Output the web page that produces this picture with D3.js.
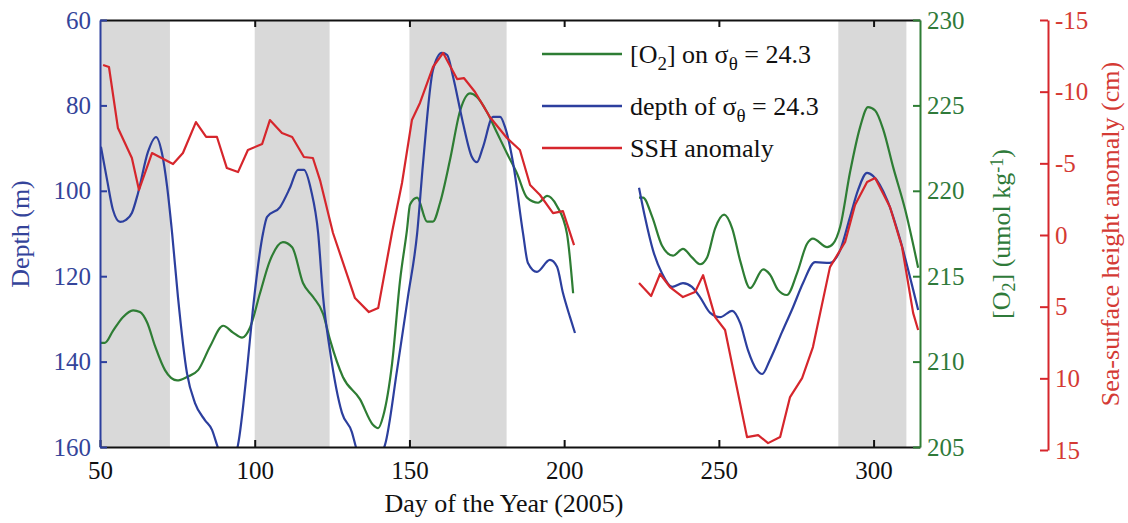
<!DOCTYPE html>
<html>
<head>
<meta charset="utf-8">
<script src="https://cdn.jsdelivr.net/npm/d3@7"></script>
<style>
  body { margin: 0; background: #fff; }
  svg text { font-family: "Liberation Serif", "Times New Roman", serif; }
</style>
</head>
<body>
<svg id="chart" width="1128" height="523"></svg>
<script>
// shaded periods (day ranges)
const bands = [[50, 72.6], [100, 124.2], [150, 181.4], [288.6, 310.6]];

// depth of sigma_theta = 24.3 (m); null marks the data gap
const depthDays = [50.3, 52.3, 54.2, 56.5, 58.4, 60.3, 62.3, 65.5, 68.1, 70.0, 71.7, 73.3, 75.2, 78.1, 80.7, 83.9, 86.2, 87.8, 91.0, 94.6, 97.5, 99.4, 102.7, 104.0, 108.2, 111.4, 114.0, 115.9, 118.2, 120.5, 122.1, 124.3, 128.2, 131.4, 132.7, 136.5, 142.1, 146.0, 149.5, 152.5, 154.4, 157.6, 160.5, 162.2, 164.1, 167.3, 170.2, 171.8, 173.8, 177.0, 179.3, 180.9, 183.5, 186.7, 188.3, 191.2, 195.4, 197.7, 199.6, 201.9, 203.5,
  null,
  224.2, 226.1, 228.7, 231.6, 234.9, 238.4, 241.3, 243.9, 247.2, 250.4, 254.3, 256.9, 259.4, 262.3, 264.0, 266.5, 270.4, 274.0, 277.2, 281.1, 285.9, 289.2, 292.4, 295.0, 297.9, 299.8, 304.4, 308.6, 312.8, 314.4];
const depthValues = [89.7, 97.5, 104.5, 107.3, 106.8, 105.2, 100.5, 90.9, 87.4, 91.1, 99.1, 109.9, 124.9, 142.7, 149.7, 153.7, 156.0, 159.5, 166.0, 159.5, 142.0, 127.9, 109.9, 106.1, 103.8, 99.3, 95.1, 95.1, 99.8, 109.9, 124.9, 137.3, 152.0, 156.5, 160.0, 166.0, 159.5, 142.0, 124.9, 109.9, 93.5, 71.7, 67.7, 68.2, 73.3, 84.1, 92.1, 93.3, 89.7, 82.7, 82.7, 85.1, 93.5, 109.9, 116.9, 119.0, 116.2, 117.8, 123.9, 129.6, 133.3,
  null,
  99.3, 106.1, 113.9, 119.3, 122.5, 121.6, 122.5, 124.9, 128.6, 129.6, 128.1, 131.0, 137.3, 142.0, 142.9, 139.6, 133.1, 127.2, 121.6, 116.7, 116.9, 113.9, 106.1, 99.8, 95.8, 96.5, 102.2, 111.5, 123.2, 127.9];

// [O2] on sigma_theta = 24.3 (umol/kg)
const o2Days = [50.0, 51.6, 54.2, 57.4, 60.7, 62.9, 65.2, 67.8, 71.0, 74.9, 78.1, 81.7, 85.6, 89.8, 93.0, 95.9, 98.5, 101.7, 104.9, 109.1, 112.1, 115.6, 118.8, 122.1, 124.3, 128.5, 134.0, 138.2, 139.9, 141.5, 144.4, 147.0, 149.2, 150.2, 152.5, 155.7, 157.6, 159.9, 163.1, 166.4, 169.6, 171.8, 175.1, 178.3, 181.5, 184.8, 188.0, 191.6, 194.5, 197.7, 200.9, 202.9,
  null,
  224.2, 225.5, 228.4, 231.6, 235.2, 238.4, 241.3, 243.9, 246.2, 248.8, 251.7, 254.3, 256.9, 260.1, 264.3, 266.5, 269.1, 272.0, 275.3, 278.5, 280.4, 285.0, 286.9, 289.2, 292.4, 295.6, 298.2, 300.5, 303.1, 306.3, 310.2, 314.4];
const o2Values = [211.1, 211.1, 211.8, 212.6, 213.0, 212.9, 212.3, 210.9, 209.5, 208.9, 209.1, 209.5, 210.9, 212.1, 211.7, 211.4, 212.0, 214.0, 215.9, 217.0, 216.7, 214.6, 213.8, 212.8, 211.3, 209.1, 207.8, 206.3, 206.1, 206.8, 209.9, 214.8, 217.7, 219.2, 219.6, 218.2, 218.2, 219.3, 221.8, 224.7, 225.7, 225.5, 224.6, 223.4, 222.2, 221.0, 219.6, 219.3, 219.7, 219.1, 217.5, 214.0,
  null,
  219.6, 219.6, 218.5, 216.8, 216.2, 216.6, 216.1, 215.7, 216.1, 217.8, 218.6, 217.8, 215.9, 214.3, 215.4, 215.1, 214.2, 213.9, 215.2, 216.9, 217.2, 216.7, 216.9, 217.9, 221.1, 223.7, 224.9, 224.7, 223.6, 221.4, 218.9, 215.5];

// sea-surface height anomaly (cm)
const sshDays = [51.0, 52.9, 55.8, 60.3, 62.6, 66.8, 73.6, 76.8, 81.0, 84.3, 87.8, 91.0, 94.6, 97.8, 102.4, 104.9, 108.8, 112.1, 115.9, 118.8, 121.1, 125.3, 132.4, 136.9, 139.9, 144.4, 147.6, 150.8, 153.4, 157.6, 160.9, 165.4, 167.6, 171.2, 176.0, 181.5, 185.7, 189.0, 192.2, 196.4, 199.6, 203.2,
  null,
  224.2, 228.1, 231.0, 234.2, 238.4, 242.3, 244.9, 248.8, 252.0, 259.1, 262.7, 265.9, 269.8, 273.0, 276.9, 280.4, 285.9, 290.8, 294.0, 297.9, 300.5, 305.3, 309.2, 312.8, 314.4];
const sshValues = [-11.86, -11.72, -7.46, -5.37, -3.14, -5.72, -4.95, -5.72, -7.88, -6.84, -6.84, -4.67, -4.39, -5.93, -6.35, -8.02, -7.11, -6.84, -5.44, -5.37, -3.83, -0.14, 4.40, 5.38, 5.10, -0.21, -3.63, -8.02, -9.21, -11.72, -12.70, -10.88, -10.95, -9.98, -8.23, -6.77, -5.93, -3.49, -2.79, -1.53, -1.67, 0.70,
  null,
  3.35, 4.26, 2.72, 3.63, 4.33, 3.98, 2.80, 5.73, 6.63, 14.10, 13.96, 14.52, 14.10, 11.31, 9.98, 7.82, 2.24, 0.49, -2.09, -3.70, -3.97, -1.95, 0.84, 5.45, 6.63];

const xTicks = [50, 100, 150, 200, 250, 300];
const depthTicks = [60, 80, 100, 120, 140, 160];
const o2Ticks = [205, 210, 215, 220, 225, 230];
const sshTicks = [-15, -10, -5, 0, 5, 10, 15];

const blue = "#2c3f9e", green = "#2e7d34", red = "#d6262c";
const blueText = "#34449a", greenText = "#2f7a3a", redText = "#d43a34";

const m = { left: 100, right: 920, top: 20, bottom: 447 };
const svg = d3.select("#chart");

const x = d3.scaleLinear().domain([50, 315]).range([m.left, m.right]);
const yDepth = d3.scaleLinear().domain([60, 160]).range([m.top, m.bottom]);
const yO2 = d3.scaleLinear().domain([205, 230]).range([m.bottom, m.top]);
const ySsh = d3.scaleLinear().domain([-15, 15]).range([m.top, 450]);

svg.append("defs").append("clipPath").attr("id", "plot")
  .append("rect").attr("x", m.left).attr("y", m.top)
  .attr("width", m.right - m.left).attr("height", m.bottom - m.top);

// grey periods
svg.append("g").selectAll("rect").data(bands).join("rect")
  .attr("x", d => x(d[0])).attr("y", m.top)
  .attr("width", d => x(d[1]) - x(d[0])).attr("height", m.bottom - m.top)
  .attr("fill", "#d9d9d9");

function pairs(days, vals) {
  return days.map((d, i) => [d, vals[i]]);
}
function drawLine(data, yScale, color, curve) {
  svg.append("path")
    .datum(data)
    .attr("clip-path", "url(#plot)")
    .attr("fill", "none").attr("stroke", color).attr("stroke-width", 2.2)
    .attr("stroke-linejoin", "round")
    .attr("d", d3.line().defined(d => d[0] != null).curve(curve)
      .x(d => x(d[0])).y(d => yScale(d[1])));
}
drawLine(pairs(o2Days, o2Values), yO2, green, d3.curveMonotoneX);
drawLine(pairs(depthDays, depthValues), yDepth, blue, d3.curveMonotoneX);
drawLine(pairs(sshDays, sshValues), ySsh, red, d3.curveLinear);

// axes
function style(g, color, textColor) {
  g.select(".domain").attr("stroke", color).attr("stroke-width", 2);
  g.selectAll(".tick line").attr("stroke", color).attr("stroke-width", 2);
  g.selectAll(".tick text").attr("fill", textColor).style("font-size", "25px");
}

svg.append("g").attr("transform", `translate(0,${m.top})`)
  .call(d3.axisTop(x).tickValues(xTicks.slice(1)).tickSizeInner(-7).tickSizeOuter(0).tickFormat(""))
  .call(g => style(g, "#111", "#111"));

svg.append("g").attr("transform", `translate(0,${m.bottom})`)
  .call(d3.axisBottom(x).tickValues(xTicks).tickSizeInner(-7).tickSizeOuter(0).tickPadding(14))
  .call(g => style(g, "#111", "#111"));

svg.append("g").attr("transform", `translate(${m.left},0)`)
  .call(d3.axisLeft(yDepth).tickValues(depthTicks).tickSizeInner(-7).tickSizeOuter(0).tickPadding(9))
  .call(g => style(g, blue, blueText));

svg.append("g").attr("transform", `translate(${m.right},0)`)
  .call(d3.axisRight(yO2).tickValues(o2Ticks).tickSizeInner(-7).tickSizeOuter(0).tickPadding(7))
  .call(g => style(g, green, greenText));

svg.append("g").attr("transform", "translate(1048,0)")
  .call(d3.axisRight(ySsh).tickValues(sshTicks).tickSizeInner(-8).tickSizeOuter(0).tickPadding(7)
    .tickFormat(d => String(d)))
  .call(g => style(g, red, redText));

// axis titles
svg.append("text").attr("transform", `translate(${(m.left + m.right) / 2 - 6},512)`)
  .attr("text-anchor", "middle").attr("fill", "#111").style("font-size", "26px")
  .text("Day of the Year (2005)");

svg.append("text").attr("transform", "translate(29,234) rotate(-90)")
  .attr("text-anchor", "middle").attr("fill", blueText).style("font-size", "26px")
  .text("Depth (m)");

const o2Title = svg.append("text").attr("transform", "translate(1010,234) rotate(-90)")
  .attr("text-anchor", "middle").attr("fill", greenText).style("font-size", "26px");
o2Title.append("tspan").text("[O");
o2Title.append("tspan").attr("baseline-shift", "-30%").style("font-size", "18px").text("2");
o2Title.append("tspan").text("] (umol kg");
o2Title.append("tspan").attr("baseline-shift", "40%").style("font-size", "18px").text("-1");
o2Title.append("tspan").text(")");

svg.append("text").attr("transform", "translate(1119,234) rotate(-90)")
  .attr("text-anchor", "middle").attr("fill", redText).style("font-size", "26px")
  .text("Sea-surface height anomaly (cm)");

// legend
const legend = [
  { color: green, y: 54, parts: [["[O"], ["2", "sub"], ["] on σ"], ["θ", "sub"], [" = 24.3"]] },
  { color: blue, y: 106, parts: [["depth of σ"], ["θ", "sub"], [" = 24.3"]] },
  { color: red, y: 148, parts: [["SSH anomaly"]] }
];
legend.forEach(item => {
  svg.append("line").attr("x1", 542).attr("x2", 622)
    .attr("y1", item.y).attr("y2", item.y)
    .attr("stroke", item.color).attr("stroke-width", 2.5);
  const t = svg.append("text").attr("x", 630).attr("y", item.y + 9)
    .attr("fill", "#111").style("font-size", "26px");
  item.parts.forEach(p => {
    const s = t.append("tspan").text(p[0]);
    if (p[1] === "sub") s.attr("baseline-shift", "-35%").style("font-size", "19px");
  });
});
</script>
</body>
</html>
